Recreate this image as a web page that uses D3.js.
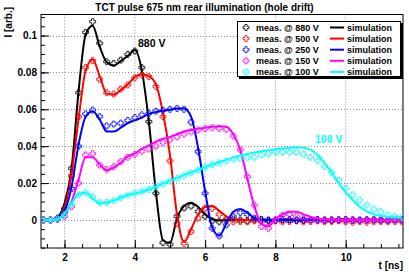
<!DOCTYPE html>
<html>
<head>
<meta charset="utf-8">
<script src="https://cdn.jsdelivr.net/npm/d3@7"></script>
<style>
  body { margin: 0; background: #fff; }
  svg text { font-family: "Liberation Sans", Arial, sans-serif; font-weight: bold; }
</style>
</head>
<body>
<svg id="chart" width="409" height="276"></svg>
<script>
var times = [1.4, 1.6, 1.8, 2.0, 2.2, 2.4, 2.6, 2.8, 3.0, 3.2, 3.4, 3.6, 3.8, 4.0, 4.2, 4.4, 4.6, 4.8, 5.0, 5.2,
  5.4, 5.6, 5.8, 6.0, 6.2, 6.4, 6.6, 6.8, 7.0, 7.2, 7.4, 7.6, 7.8, 8.0, 8.2, 8.4, 8.6, 8.8, 9.0, 9.2,
  9.4, 9.6, 9.8, 10.0, 10.2, 10.4, 10.6, 10.8, 11.0, 11.2, 11.4, 11.6];

var meas880 = [0, 0, 0.001, 0.006, 0.028, 0.069, 0.1017, 0.1075, 0.0958, 0.0858, 0.0849, 0.0867, 0.0898, 0.0916, 0.0826, 0.0533, 0.0145, -0.0123, -0.0132, 0.002,
  0.0065, 0.0075, 0.0045, 0.002, -0.0005, -0.001, 0, 0.0005, 0, -0.0005, 0, 0.0003, 0, -0.0003, 0, 0.0002, 0, -0.0003, 0, 0.0002,
  0, -0.0002, 0, 0.0002, 0, -0.0002, 0, 0.0001, 0, -0.0002, 0, 0.0001];
var sim880 = [0, 0, 0.0015, 0.009, 0.028, 0.07, 0.1005, 0.1053, 0.094, 0.0855, 0.0838, 0.0862, 0.089, 0.0922, 0.081, 0.053, 0.015, -0.011, -0.0125, 0.001,
  0.0075, 0.0094, 0.007, 0.003, 0.0005, -0.0003, 0, 0, 0, 0, 0, 0, 0, 0, 0, 0, 0, 0, 0, 0,
  0, 0, 0, 0, 0, 0, 0, 0, 0, 0, 0, 0];

var meas500 = [0, 0, 0.0005, 0.005, 0.024, 0.056, 0.0826, 0.0864, 0.0763, 0.069, 0.0683, 0.071, 0.0732, 0.0771, 0.0786, 0.0777, 0.0723, 0.056, 0.032, -0.002,
  -0.0127, -0.0063, 0.001, 0.0063, 0.0063, 0.003, 0.0005, -0.001, -0.0008, -0.001, -0.0005, -0.001, -0.0008, -0.0005, -0.001, -0.0008, -0.0005, -0.001, -0.0008, -0.0005,
  -0.001, -0.0008, -0.0005, -0.001, -0.0012, -0.0008, -0.0012, -0.001, -0.0008, -0.001, -0.0008, -0.001];
var sim500 = [0, 0, 0.001, 0.007, 0.025, 0.055, 0.081, 0.087, 0.078, 0.0685, 0.068, 0.0705, 0.0735, 0.0775, 0.079, 0.078, 0.0735, 0.058, 0.035, 0.003,
  -0.012, -0.005, 0.003, 0.007, 0.0076, 0.005, 0.002, 0.0003, 0, 0, 0, 0, 0, 0, 0, 0, 0, 0, 0, 0,
  0, 0, 0, 0, 0, 0, 0, 0, 0, 0, 0, 0];

var meas250 = [0, 0, 0.0005, 0.004, 0.017, 0.040, 0.0575, 0.0596, 0.056, 0.051, 0.052, 0.0525, 0.054, 0.0555, 0.057, 0.0578, 0.059, 0.0595, 0.060, 0.0605,
  0.060, 0.053, 0.037, 0.0145, -0.0045, -0.0087, -0.0027, 0.002, 0.004, 0.003, 0.001, 0, -0.0003, 0, 0.0002, 0, -0.0002, 0, 0.0002, 0,
  -0.0002, 0, 0.0001, 0, -0.0002, 0, 0.0001, 0, -0.0001, 0, 0.0001, 0];
var sim250 = [0, 0, 0.001, 0.005, 0.018, 0.041, 0.056, 0.059, 0.0545, 0.048, 0.048, 0.050, 0.0525, 0.054, 0.0555, 0.0575, 0.0585, 0.0592, 0.0598, 0.0605,
  0.0605, 0.056, 0.039, 0.0155, -0.004, -0.0085, -0.002, 0.0045, 0.006, 0.004, 0.001, 0, 0, 0, 0, 0, 0, 0, 0, 0,
  0, 0, 0, 0, 0, 0, 0, 0, 0, 0, 0, 0];

var meas150 = [0, 0, 0.0003, 0.002, 0.0072, 0.02, 0.0352, 0.036, 0.0298, 0.0275, 0.0289, 0.0316, 0.034, 0.0355, 0.0372, 0.0385, 0.040, 0.042, 0.0435, 0.045,
  0.0465, 0.0478, 0.0488, 0.0495, 0.050, 0.0497, 0.0492, 0.0455, 0.038, 0.0235, 0.0081, -0.0036, -0.0045, 0, 0.0025, 0.003, 0.002, 0.001, 0, -0.0003,
  0, 0.0002, -0.0002, 0, 0.0001, -0.0002, 0, 0.0001, -0.0001, 0, 0.0001, 0];
var sim150 = [0, 0, 0.0005, 0.003, 0.010, 0.022, 0.034, 0.034, 0.030, 0.027, 0.0285, 0.031, 0.0345, 0.036, 0.0385, 0.0405, 0.0425, 0.044, 0.045, 0.0465,
  0.048, 0.0488, 0.0495, 0.050, 0.0506, 0.0508, 0.0505, 0.0465, 0.038, 0.0225, 0.0075, -0.002, -0.0035, 0.0005, 0.003, 0.0045, 0.0045, 0.003, 0.0018, 0.0008,
  0.0002, 0, 0, 0, 0, 0, 0, 0, 0, 0, 0, 0];

var meas100 = [0, 0, 0.0005, 0.003, 0.0085, 0.0135, 0.0148, 0.0125, 0.0095, 0.0095, 0.0105, 0.012, 0.0135, 0.0145, 0.0155, 0.0165, 0.018, 0.0195, 0.021, 0.0225,
  0.024, 0.0255, 0.027, 0.0285, 0.030, 0.031, 0.032, 0.033, 0.0335, 0.034, 0.034, 0.0352, 0.036, 0.0367, 0.0367, 0.0367, 0.0367, 0.0356, 0.034, 0.0322,
  0.029, 0.0257, 0.0217, 0.0172, 0.0136, 0.0108, 0.0081, 0.0058, 0.0045, 0.0027, 0.0018, 0.0015];
var sim100 = [0, 0, 0.0005, 0.0035, 0.009, 0.0142, 0.0148, 0.0118, 0.009, 0.0095, 0.0105, 0.0122, 0.0135, 0.0143, 0.0152, 0.0165, 0.018, 0.0197, 0.0213, 0.0228,
  0.0243, 0.0258, 0.0272, 0.0286, 0.030, 0.0313, 0.0326, 0.0338, 0.035, 0.0358, 0.0366, 0.0372, 0.0378, 0.0383, 0.0387, 0.0391, 0.0394, 0.0392, 0.038, 0.0353,
  0.031, 0.0257, 0.020, 0.015, 0.0108, 0.0072, 0.0047, 0.0031, 0.0022, 0.0018, 0.0016, 0.0015];

var voltages = ["880", "500", "250", "150", "100"];
var colors = ["#000000", "#ff0000", "#0000ff", "#ff00ff", "#00ffff"];
var measSeries = [meas880, meas500, meas250, meas150, meas100];
var simSeries = [sim880, sim500, sim250, sim150, sim100];

var xTicks = [2, 4, 6, 8, 10];
var xTickLabels = ["2", "4", "6", "8", "10"];
var yTicks = [0, 0.02, 0.04, 0.06, 0.08, 0.1];
var yTickLabels = ["0", "0.02", "0.04", "0.06", "0.08", "0.1"];

var svg = d3.select("#chart");

var frame = {left: 41, right: 403, top: 14.5, bottom: 248};

var x = d3.scaleLinear().domain([1.33, 11.63]).range([frame.left, frame.right]);
var y = d3.scaleLinear().domain([-0.0152, 0.1114]).range([frame.bottom, frame.top]);

// grid
svg.append("g").selectAll("line.gx")
    .data(xTicks)
  .enter().append("line")
    .attr("x1", function(d){ return x(d); }).attr("x2", function(d){ return x(d); })
    .attr("y1", frame.top).attr("y2", frame.bottom)
    .attr("stroke", "#8c8c8c").attr("stroke-width", 1).attr("stroke-dasharray", "1,2");
svg.append("g").selectAll("line.gy")
    .data(yTicks)
  .enter().append("line")
    .attr("x1", frame.left).attr("x2", frame.right)
    .attr("y1", function(d){ return Math.round(y(d)) + 0.5; }).attr("y2", function(d){ return Math.round(y(d)) + 0.5; })
    .attr("stroke", "#8c8c8c").attr("stroke-width", 1).attr("stroke-dasharray", "1,2");

// frame
svg.append("rect")
    .attr("x", frame.left).attr("y", frame.top)
    .attr("width", frame.right - frame.left).attr("height", frame.bottom - frame.top)
    .attr("fill", "none").attr("stroke", "#000").attr("stroke-width", 1);

// axes with inside ticks
var xMinor = [];
var yMinor = [];
for (var i = 0; i < 23; i++) xMinor.push(1.5 + i * 0.5);
for (var j = 0; j < 26; j++) yMinor.push(-0.015 + j * 0.005);

svg.append("g").attr("transform", "translate(0," + frame.bottom + ")")
    .call(d3.axisBottom(x).tickValues(xTicks).tickSize(-8).tickPadding(6)
      .tickFormat(function(d, i){ return xTickLabels[i]; }));
svg.append("g").attr("transform", "translate(0," + frame.bottom + ")")
    .call(d3.axisBottom(x).tickValues(xMinor).tickSize(-4).tickFormat(""));
svg.append("g").attr("transform", "translate(" + frame.left + ",0)")
    .call(d3.axisLeft(y).tickValues(yTicks).tickSize(-8).tickPadding(4)
      .tickFormat(function(d, i){ return yTickLabels[i]; }));
svg.append("g").attr("transform", "translate(" + frame.left + ",0)")
    .call(d3.axisLeft(y).tickValues(yMinor).tickSize(-4).tickFormat(""));

svg.selectAll(".domain").remove();
svg.selectAll(".tick text").style("font-size", "10px").attr("fill", "#000");

// curves
svg.append("clipPath").attr("id", "clip").append("rect")
    .attr("x", frame.left).attr("y", frame.top)
    .attr("width", frame.right - frame.left).attr("height", frame.bottom - frame.top);

var plot = svg.append("g").attr("clip-path", "url(#clip)");

var line = d3.line()
    .x(function(d, i){ return x(times[i]); })
    .y(function(d){ return y(d); })
    .curve(d3.curveMonotoneX);

var crossPath = "M-1.1,-3H1.1V-1.1H3V1.1H1.1V3H-1.1V1.1H-3V-1.1H-1.1Z";

voltages.forEach(function(v, k){
  plot.append("g").selectAll("path")
      .data(measSeries[k])
    .enter().append("path")
      .attr("d", crossPath)
      .attr("transform", function(d, i){ return "translate(" + x(times[i]) + "," + y(d) + ")"; })
      .attr("fill", "none")
      .attr("stroke", colors[k])
      .attr("stroke-width", 0.8);

  plot.append("path")
      .datum(simSeries[k])
      .attr("d", line)
      .attr("fill", "none")
      .attr("stroke", colors[k])
      .attr("stroke-width", 2);
});

// labels on the curves
svg.append("text").attr("x", 138).attr("y", 47).style("font-size", "10.5px").attr("fill", "#000").text("880 V");
svg.append("text").attr("x", 315).attr("y", 143).style("font-size", "10.5px").attr("fill", colors[4]).text("100 V");

// title
svg.append("rect").attr("x", 82).attr("y", 0).attr("width", 244).attr("height", 14).attr("fill", "#fff");
svg.append("text").attr("x", 204.5).attr("y", 11).attr("text-anchor", "middle")
    .style("font-size", "10px").text("TCT pulse 675 nm rear illumination (hole drift)");

// axis titles
svg.append("text").attr("transform", "translate(12,7) rotate(-90)").attr("text-anchor", "end")
    .style("font-size", "10px").text("I [arb.]");
svg.append("text").attr("x", 403).attr("y", 269).attr("text-anchor", "end")
    .style("font-size", "10px").text("t [ns]");

// legend
var legend = svg.append("g");
legend.append("rect").attr("x", 239).attr("y", 23).attr("width", 164).attr("height", 56).attr("fill", "#000");
legend.append("rect").attr("x", 237.5).attr("y", 21.5).attr("width", 163).attr("height", 55)
    .attr("fill", "#fff").attr("stroke", "#000").attr("stroke-width", 1);

var rows = legend.selectAll("g.row")
    .data(voltages)
  .enter().append("g")
    .attr("transform", function(d, i){ return "translate(0," + (27.5 + i * 11.1) + ")"; });

rows.append("path").attr("d", crossPath).attr("transform", "translate(246,0)")
    .attr("fill", "none").attr("stroke-width", 0.8)
    .attr("stroke", function(d, i){ return colors[i]; });
rows.append("text").attr("x", 256).attr("y", 3.5).style("font-size", "9px")
    .text(function(d){ return "meas. @ " + d + " V"; });
rows.append("line").attr("x1", 330).attr("x2", 344).attr("y1", 0).attr("y2", 0)
    .attr("stroke-width", 2).attr("stroke", function(d, i){ return colors[i]; });
rows.append("text").attr("x", 347).attr("y", 3.5).style("font-size", "9px").text("simulation");
</script>
</body>
</html>
